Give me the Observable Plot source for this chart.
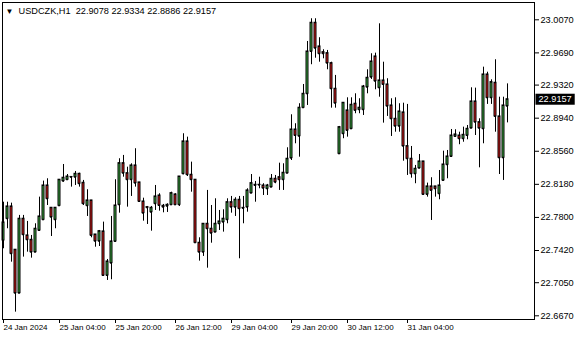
<!DOCTYPE html>
<html><head><meta charset="utf-8">
<script src="https://cdn.jsdelivr.net/npm/d3@7"></script>
<script src="https://cdn.jsdelivr.net/npm/@observablehq/plot@0.6"></script>
<style>html,body{margin:0;padding:0;background:#fff;} svg{display:block}</style>
</head><body><div id="chart"></div>
<script>
const symbol = "USDCZK,H1";

const open = [
22.7535, 22.7785, 22.7926, 22.7429, 22.6930, 22.7785, 22.7593, 22.7543, 22.7401, 22.7650,
22.7773, 22.8167, 22.7911, 22.7773, 22.7934, 22.8217, 22.8233, 22.8262, 22.8262, 22.8301,
22.8198, 22.7934, 22.7995, 22.7604, 22.7527, 22.7639, 22.7133, 22.7275, 22.7524, 22.7945,
22.8423, 22.8308, 22.8233, 22.8397, 22.8202, 22.7983, 22.7918, 22.7860, 22.7957, 22.8052,
22.7934, 22.7929, 22.7945, 22.8064, 22.7945, 22.8301, 22.8673, 22.8290, 22.8233, 22.7509,
22.7401, 22.7727, 22.7670, 22.7631, 22.7727, 22.7746, 22.7773, 22.7975, 22.7918, 22.8003,
22.7905, 22.7918, 22.8079, 22.8167, 22.8175, 22.8167, 22.8129, 22.8148, 22.8244, 22.8262,
22.8233, 22.8308, 22.8481, 22.8810, 22.8733, 22.9060, 22.9220, 22.9706, 23.0036, 22.9764,
22.9698, 22.9687, 22.9572, 22.9278, 22.8531, 22.8761, 22.9029, 22.8818, 22.9106, 22.9037,
22.9037, 22.9296, 22.9411, 22.9649, 22.9289, 22.9373, 22.9327, 22.9086, 22.8933, 22.8848,
22.9006, 22.8619, 22.8474, 22.8301, 22.8366, 22.8443, 22.8064, 22.8156, 22.8156, 22.8072,
22.8225, 22.8405, 22.8500, 22.8730, 22.8741, 22.8704, 22.8741, 22.8825, 22.9132, 22.8894,
22.8818, 22.9442, 22.9174, 22.9347, 22.8960, 22.8485, 22.9078
];
const high = [
22.7975, 22.7975, 22.7964, 22.7429, 22.7823, 22.7823, 22.7754, 22.7593, 22.7727, 22.8033,
22.8217, 22.8244, 22.7911, 22.7911, 22.8233, 22.8408, 22.8293, 22.8270, 22.8328, 22.8308,
22.8225, 22.8118, 22.7995, 22.7604, 22.7650, 22.7746, 22.7317, 22.7811, 22.8233, 22.8474,
22.8512, 22.8377, 22.8416, 22.8589, 22.8202, 22.8021, 22.7926, 22.7926, 22.8167, 22.8072,
22.7949, 22.7957, 22.8090, 22.8072, 22.8270, 22.8761, 22.8722, 22.8435, 22.8233, 22.7566,
22.7727, 22.8110, 22.7937, 22.8014, 22.7880, 22.7888, 22.8014, 22.8041, 22.8026, 22.8041,
22.8041, 22.8129, 22.8293, 22.8213, 22.8262, 22.8187, 22.8179, 22.8293, 22.8282, 22.8423,
22.8416, 22.8600, 22.8979, 22.8876, 22.9106, 22.9327, 22.9821, 23.0082, 23.0082, 22.9864,
22.9726, 22.9718, 22.9583, 22.9431, 22.8845, 22.9117, 22.9174, 22.9174, 22.9220, 22.9163,
22.9316, 22.9496, 22.9680, 22.9687, 23.0024, 22.9583, 22.9393, 22.9163, 22.9174, 22.9106,
22.9112, 22.9098, 22.8615, 22.8397, 22.8523, 22.8443, 22.8194, 22.8256, 22.8156, 22.8339,
22.8561, 22.8569, 22.8810, 22.8807, 22.8779, 22.8837, 22.8856, 22.9289, 22.9285, 22.8933,
22.9526, 22.9468, 22.9381, 22.9611, 22.9181, 22.9181, 22.9334
];
const low = [
22.7440, 22.7670, 22.7286, 22.6712, 22.6930, 22.7344, 22.7401, 22.7332, 22.7401, 22.7639,
22.7773, 22.7937, 22.7581, 22.7670, 22.7934, 22.8205, 22.8233, 22.8148, 22.8167, 22.8148,
22.7937, 22.7811, 22.7566, 22.7458, 22.7466, 22.7122, 22.7076, 22.7084, 22.7524, 22.7849,
22.8262, 22.7918, 22.8041, 22.8148, 22.7975, 22.7757, 22.7719, 22.7642, 22.7880, 22.7872,
22.7853, 22.7857, 22.7945, 22.7937, 22.7926, 22.8290, 22.8270, 22.8090, 22.7509, 22.7298,
22.7352, 22.7217, 22.7504, 22.7631, 22.7650, 22.7631, 22.7727, 22.7849, 22.7811, 22.7325,
22.7727, 22.7860, 22.8079, 22.7975, 22.8129, 22.8052, 22.8052, 22.8148, 22.8187, 22.8110,
22.8110, 22.8308, 22.8454, 22.8646, 22.8492, 22.9060, 22.9086, 22.9554, 22.9629, 22.9583,
22.9622, 22.9496, 22.9055, 22.9055, 22.8531, 22.8704, 22.8722, 22.8818, 22.8991, 22.8991,
22.8971, 22.9220, 22.9385, 22.9266, 22.9181, 22.8883, 22.8960, 22.8730, 22.8779, 22.8779,
22.8446, 22.8282, 22.8251, 22.8187, 22.8359, 22.8052, 22.8033, 22.7765, 22.8033, 22.8003,
22.8225, 22.8244, 22.8492, 22.8722, 22.8635, 22.8664, 22.8692, 22.8825, 22.8741, 22.8370,
22.8646, 22.9098, 22.9098, 22.8779, 22.8293, 22.8225, 22.8886
];
const close = [
22.7742, 22.7926, 22.7383, 22.6930, 22.7785, 22.7601, 22.7543, 22.7401, 22.7670, 22.7811,
22.8167, 22.8014, 22.7803, 22.7911, 22.8233, 22.8256, 22.8270, 22.8265, 22.8301, 22.8187,
22.7957, 22.7995, 22.7593, 22.7527, 22.7642, 22.7133, 22.7294, 22.7524, 22.7937, 22.8423,
22.8308, 22.8233, 22.8397, 22.8194, 22.7983, 22.7849, 22.7911, 22.7911, 22.8041, 22.7937,
22.7918, 22.7945, 22.8079, 22.7945, 22.8270, 22.8673, 22.8290, 22.8233, 22.7509, 22.7401,
22.7727, 22.7670, 22.7619, 22.7727, 22.7754, 22.7785, 22.7975, 22.7918, 22.8003, 22.7900,
22.7910, 22.8110, 22.8194, 22.8175, 22.8172, 22.8136, 22.8167, 22.8244, 22.8205, 22.8233,
22.8313, 22.8474, 22.8810, 22.8741, 22.9060, 22.9220, 22.9706, 23.0036, 22.9744, 22.9680,
22.9680, 22.9572, 22.9278, 22.9112, 22.8837, 22.9117, 22.8799, 22.9094, 22.9029, 22.9060,
22.9304, 22.9404, 22.9591, 22.9365, 22.9373, 22.9327, 22.9078, 22.8933, 22.8848, 22.9017,
22.8619, 22.8474, 22.8301, 22.8359, 22.8443, 22.8064, 22.8156, 22.8110, 22.8129, 22.8167,
22.8408, 22.8500, 22.8741, 22.8753, 22.8704, 22.8749, 22.8818, 22.9132, 22.8894, 22.8825,
22.9442, 22.9174, 22.9354, 22.8960, 22.8485, 22.9086, 22.9157
];

const tickIdx = [0, 14, 28, 43, 57, 72, 86, 101];
const tickLabels = ["24 Jan 2024", "25 Jan 04:00", "25 Jan 20:00", "26 Jan 12:00",
                    "29 Jan 04:00", "29 Jan 20:00", "30 Jan 12:00", "31 Jan 04:00"];
const yTicks = [22.6670, 22.7050, 22.7420, 22.7800, 22.8180, 22.8560, 22.8940, 22.9320, 22.9690, 23.0070];

const bullColor = "#3cb043";
const bearColor = "#e01b1b";

const data = open.map((o, i) => ({i, open: o, high: high[i], low: low[i], close: close[i]}));
const last = data[data.length - 1];
const fmt = d3.format(".4f");
const titleText = `${symbol}\u00a0\u00a0${fmt(last.open)} ${fmt(last.high)} ${fmt(last.low)} ${fmt(last.close)}`;
const priceText = fmt(last.close);

const chart = Plot.plot({
  width: 580,
  height: 340,
  marginLeft: 2,
  marginRight: 46,
  marginTop: 2,
  marginBottom: 21,
  style: {fontFamily: "'Liberation Sans', Arial, sans-serif", fontSize: "9.2px", color: "black", background: "white"},
  x: {domain: [-0.25, 132.75], axis: null},
  y: {domain: [22.66275, 23.02687], axis: null},
  marks: [
    Plot.ruleX(data, {x: "i", y1: "low", y2: "high", stroke: "black", strokeWidth: 1}),
    Plot.rect(data, {
      x1: d => d.i - 0.25, x2: d => d.i + 0.25, y1: "open", y2: "close",
      fill: d => d.close >= d.open ? bullColor : bearColor,
      stroke: "black", strokeWidth: 1
    }),
    Plot.ruleY(data, {y: "open", x1: d => d.i - 0.25, x2: d => d.i + 0.25, stroke: "black"}),
    Plot.ruleY(data, {y: "close", x1: d => d.i - 0.25, x2: d => d.i + 0.25, stroke: "black"}),
    Plot.frame({stroke: "black", strokeWidth: 1}),
    Plot.axisX({
      ticks: tickIdx,
      tickFormat: d => tickLabels[tickIdx.indexOf(d)],
      tickSize: 4, tickPadding: 1, textAnchor: "start", anchor: "bottom", label: null, fontSize: 8
    }),
    Plot.axisY({ticks: yTicks, tickFormat: fmt, anchor: "right", tickSize: 4, tickPadding: 2, label: null}),
    Plot.text(["\u25BC"], {frameAnchor: "top-left", dx: 3, dy: 8.5, textAnchor: "start", lineAnchor: "middle", fill: "black", fontSize: 8}),
    Plot.text([titleText], {frameAnchor: "top-left", dx: 16, dy: 8.7, textAnchor: "start", lineAnchor: "middle", fill: "black"}),
    Plot.text([last.close], {y: d => d, text: d => fmt(d), frameAnchor: "right", dx: 4, textAnchor: "start", lineAnchor: "middle", fill: "white"})
  ]
});

document.getElementById("chart").append(chart);

// black background box behind the current-price label
for (const t of chart.querySelectorAll("text")) {
  if (t.textContent === priceText && t.closest("g") && t.closest("g").getAttribute("fill") === "white") {
    const b = t.getBBox();
    const r = document.createElementNS("http://www.w3.org/2000/svg", "rect");
    r.setAttribute("x", b.x - 3);
    r.setAttribute("y", b.y - 0.5);
    r.setAttribute("width", b.width + 6);
    r.setAttribute("height", b.height + 1);
    r.setAttribute("fill", "black");
    r.setAttribute("stroke", "none");
    if (t.getAttribute("transform")) r.setAttribute("transform", t.getAttribute("transform"));
    t.parentNode.insertBefore(r, t);
  }
}
</script>
</body></html>
